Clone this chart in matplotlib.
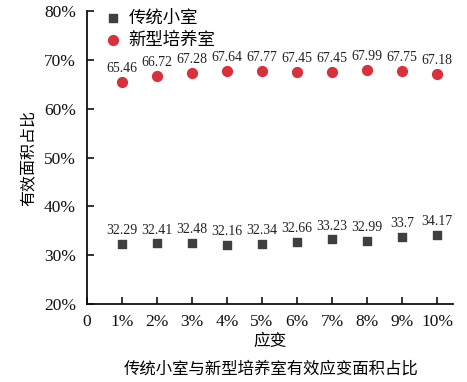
import numpy as np
import matplotlib
matplotlib.use("Agg")
import matplotlib.pyplot as plt
from matplotlib.ticker import FuncFormatter

# data
strain = [1, 2, 3, 4, 5, 6, 7, 8, 9, 10]
strain_labels = ["0", "1%", "2%", "3%", "4%", "5%", "6%", "7%", "8%", "9%", "10%"]
old_chamber = [32.29, 32.41, 32.48, 32.16, 32.34, 32.66, 33.23, 32.99, 33.7, 34.17]
new_chamber = [65.46, 66.72, 67.28, 67.64, 67.77, 67.45, 67.45, 67.99, 67.75, 67.18]
series_names = ["传统小室", "新型培养室"]

num_font = ["Liberation Serif", "DejaVu Serif"]
cjk_font = ["Noto Sans CJK SC", "DejaVu Sans"]

fig = plt.figure(figsize=(4.67, 3.82), dpi=100)
ax = fig.add_axes([0.186, 0.204, 0.784, 0.767])

ax.scatter(strain, old_chamber, marker="s", s=30, color="#3f3f3f",
           label=series_names[0], zorder=3)
ax.scatter(strain, new_chamber, marker="o", s=50, color="#d8313c",
           label=series_names[1], zorder=3)

for x, v in zip(strain, old_chamber):
    ax.annotate(f"{v:g}", (x, v), xytext=(0, 5), textcoords="offset points",
                ha="center", va="bottom", fontsize=10, family=num_font, color="#222222")
for x, v in zip(strain, new_chamber):
    ax.annotate(f"{v:g}", (x, v), xytext=(0, 5), textcoords="offset points",
                ha="center", va="bottom", fontsize=10, family=num_font, color="#222222")

ax.set_xlim(0, 10.45)
ax.set_ylim(20, 80)
ax.set_xticks(range(0, 11))
ax.set_xticklabels(strain_labels)
ax.set_yticks(range(20, 81, 10))
ax.yaxis.set_major_formatter(FuncFormatter(lambda v, p: f"{v:.0f}%"))

for side in ["top", "right"]:
    ax.spines[side].set_visible(False)
for side in ["left", "bottom"]:
    ax.spines[side].set_linewidth(1.3)
    ax.spines[side].set_color("#111111")

ax.tick_params(direction="in", length=5, width=1.2, labelsize=12.5, colors="#111111")
ax.tick_params(axis="x", pad=7)
ax.tick_params(axis="y", pad=8)
for lab in ax.get_xticklabels() + ax.get_yticklabels():
    lab.set_family(num_font)

ax.set_xlabel("应变", family=cjk_font, fontsize=12, labelpad=2)
ax.set_ylabel("有效面积占比", family=cjk_font, fontsize=11.5, labelpad=5)

leg = ax.legend(loc="upper left", bbox_to_anchor=(0.01, 1.05), frameon=False,
                prop={"family": cjk_font, "size": 12.5}, handletextpad=0.3,
                borderaxespad=0.3, labelspacing=0.25, handlelength=1.2)

fig.text(0.58, 0.022, "传统小室与新型培养室有效应变面积占比", ha="center",
         family=cjk_font, fontsize=11.8)

fig.savefig("out.png", dpi=100)
